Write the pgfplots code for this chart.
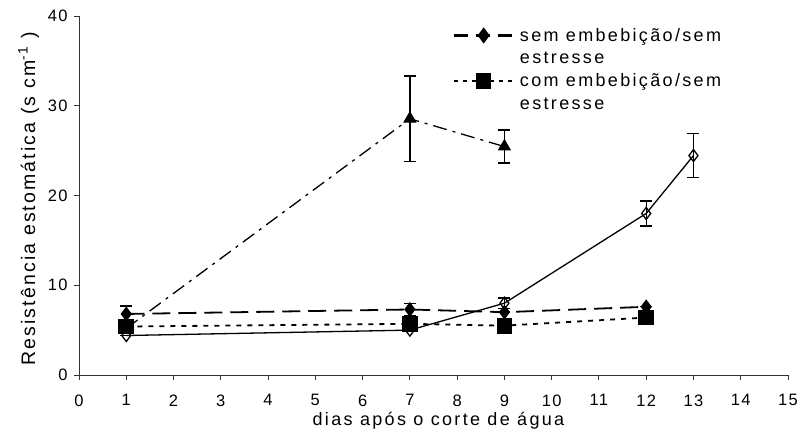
\documentclass[border=0pt]{standalone}
\usepackage{pgfplots}
\pgfplotsset{compat=1.18}
\usepackage{pgfplotstable}
\usepackage{fontspec}
\setmainfont{Liberation Sans}
\newfontfamily\labelfont[LetterSpace=13]{Liberation Sans}
\newfontfamily\ylabelfont[LetterSpace=11]{Liberation Sans}
\newfontfamily\tickfont[LetterSpace=8]{Liberation Sans}

% x = dias, y = resistência, e = erro
\pgfplotstableread{
x  y    e
1  6.8  0.9
7  7.3  0.7
9  7.0  0.0
12 7.6  0.0
}\semsem
\pgfplotstableread{
x  y    e
1  5.4  0.0
7  5.7  0.0
9  5.5  0.0
12 6.4  0.0
}\comsem
\pgfplotstableread{
x  y     e
1  5.2   0.0
7  28.55 4.75
9  25.45 1.85
}\semcom
\pgfplotstableread{
x  y     e
1  4.4   0.0
7  5.0   0.0
9  8.0   0.6
12 18.0  1.4
13 24.45 2.45
}\comcom

\begin{document}
\begin{tikzpicture}
\useasboundingbox (0,0) rectangle (799pt,434pt);
\begin{axis}[
  at={(79pt,59pt)}, anchor=south west,
  width=709pt, height=359pt, scale only axis,
  xmin=0, xmax=15, ymin=0, ymax=40,
  xtick={0,1,...,15}, ytick={0,10,20,30,40},
  axis lines=left, axis line style={-, line width=0.9pt, black!80},
  tick align=outside, major tick length=5pt,
  tick style={line width=0.9pt, black!80},
  /pgf/number format/assume math mode=true,
  tick label style={font=\tickfont\fontsize{16.5}{19}\selectfont},
  xticklabel style={yshift=-11pt},
  yticklabel style={xshift=-3pt},
  xlabel={dias após o corte de água},
  every axis x label/.style={font=\labelfont\fontsize{18}{21}\selectfont,
    at={(axis description cs:0.507,-0.14)}, anchor=base},
  ylabel={Resistência estomática (s cm\textsuperscript{-1} )},
  every axis y label/.style={font=\ylabelfont\fontsize{19.5}{22}\selectfont,
    at={(axis description cs:-0.062,0.49)}, anchor=base, rotate=90},
  clip=false,
  legend cell align=left,
  legend style={draw=none, fill=none, at={(axis description cs:0.525,0.975)},
    anchor=north west, row sep=5pt, inner sep=1pt,
    font=\labelfont\fontsize{18}{21}\selectfont,
    nodes={inner xsep=5pt}},
  legend image code/.code={%
    \draw[mark repeat=2, mark phase=2] plot coordinates {(0pt,0pt) (30pt,0pt) (60pt,0pt)};},
  every axis plot/.append style={black},
  error bars/error bar style={line width=1.4pt, solid},
  error bars/error mark options={rotate=90, mark size=6pt, line width=1.4pt, solid},
]
% com embebição / com estresse
\addplot[forget plot, line width=1.3pt, dash pattern=on 14pt off 6pt on 3pt off 6pt,
  mark=triangle*, mark size=6.5pt, mark options={solid},
  error bars/.cd, y dir=both, y explicit]
  table[x=x, y=y, y error=e] {\semcom};
% sem embebição / com estresse
\addplot[forget plot, line width=1.3pt, mark=diamond, mark size=6pt,
  mark options={fill=white, line width=1.3pt},
  error bars/.cd, y dir=both, y explicit]
  table[x=x, y=y, y error=e] {\comcom};
% sem embebição / sem estresse
\addplot[forget plot, line width=1.8pt, dash pattern=on 18pt off 8pt,
  mark=diamond*, mark size=6pt, mark options={solid},
  error bars/.cd, y dir=both, y explicit]
  table[x=x, y=y, y error=e] {\semsem};
% com embebição / sem estresse
\addplot[forget plot, line width=1.8pt, dash pattern=on 5pt off 6pt,
  mark=square*, mark size=7pt, mark options={solid},
  error bars/.cd, y dir=both, y explicit]
  table[x=x, y=y, y error=e] {\comsem};

\addlegendimage{black, line width=2.5pt, dash pattern=on 14pt off 8pt,
  mark=diamond*, mark size=6pt, mark options={solid}}
\addlegendentry{sem embebição/sem}
\addlegendimage{empty legend}
\addlegendentry{estresse}
\addlegendimage{black, line width=1.5pt, dash pattern=on 4pt off 5pt,
  mark=square*, mark size=7pt, mark options={solid}}
\addlegendentry{com embebição/sem}
\addlegendimage{empty legend}
\addlegendentry{estresse}
\end{axis}
\end{tikzpicture}
\end{document}
